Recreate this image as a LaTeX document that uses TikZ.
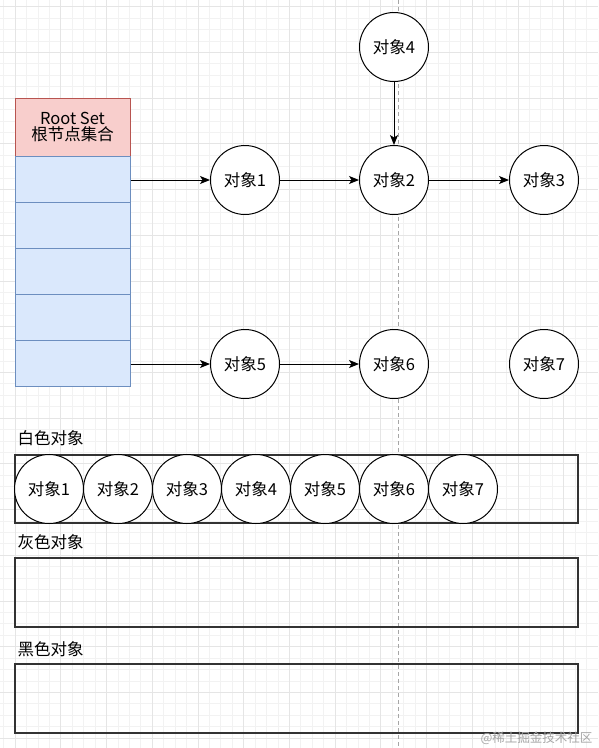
\documentclass[tikz,border=0pt]{standalone}
\usepackage{fontspec}
\setmainfont{Noto Sans CJK SC}
\usetikzlibrary{arrows.meta}
\definecolor{rootfill}{HTML}{F8CECC}
\definecolor{rootline}{HTML}{B85450}
\definecolor{cellfill}{HTML}{DAE8FC}
\definecolor{cellline}{HTML}{6C8EBF}
\begin{document}
\begin{tikzpicture}[x=1pt,y=-1pt,>={Stealth[length=10pt,width=8pt,inset=2.5pt]},
  font=\fontsize{16.5}{19}\selectfont,
  obj/.style={circle,draw,fill=white,line width=1pt,minimum size=69pt,inner sep=0pt},
  rootbox/.style={draw=rootline,fill=rootfill,line width=1pt,minimum width=115pt,minimum height=58pt,align=center,inner sep=0pt},
  cellbox/.style={draw=cellline,fill=cellfill,line width=1pt,minimum width=115pt,minimum height=46pt,inner sep=0pt},
  setbox/.style={draw=black!80,line width=1.1pt},
  link/.style={->,line width=1pt}]
\useasboundingbox (0,0) rectangle (598,748);
\fill[white] (0,0) rectangle (598,748);
% background grid
\begin{scope}
\clip (0,0) rectangle (598,748);
\foreach \i in {-2,...,52} \draw[black!5,line width=0.6pt] (15+11.43*\i,0)--(15+11.43*\i,748);
\foreach \i in {-9,...,57} \draw[black!5,line width=0.6pt] (0,98+11.43*\i)--(598,98+11.43*\i);
\foreach \i in {-1,...,13} \draw[black!10,line width=0.6pt] (15+45.72*\i,0)--(15+45.72*\i,748);
\foreach \i in {-3,...,15} \draw[black!10,line width=0.6pt] (0,98+45.72*\i)--(598,98+45.72*\i);
\end{scope}
\draw[black!35,dashed,dash pattern=on 4pt off 3pt,line width=0.6pt] (398,0)--(398,748);
% root set
\node[rootbox] (root) at (72.5,127) {Root Set\\[-3pt]根节点集合};
\foreach \i in {1,...,5} \node[cellbox] (c\i) at (72.5,179+46*\i-46) {};
% objects
\node[obj] (o1) at (245,180) {对象1};
\node[obj] (o2) at (394,180) {对象2};
\node[obj] (o3) at (544,180) {对象3};
\node[obj] (o4) at (394,47) {对象4};
\node[obj] (o5) at (245,364) {对象5};
\node[obj] (o6) at (394,364) {对象6};
\node[obj] (o7) at (544,364) {对象7};
\draw[link] (c1.east|-o1) -- (o1);
\draw[link] (c5.east|-o5) -- (o5);
\draw[link] (o1) -- (o2);
\draw[link] (o2) -- (o3);
\draw[link] (o4) -- (o2);
\draw[link] (o5) -- (o6);
% colour sets
\node[anchor=west] (lw) at (14,438) {白色对象};
\draw[setbox] (15,455) rectangle (578,523);
\foreach \i in {1,...,7} \node[obj] (w\i) at (49+69*\i-69,489) {对象\i};
\node[anchor=west] (lg) at (14,542) {灰色对象};
\draw[setbox] (15,558) rectangle (578,627);
\node[anchor=west] (lb) at (14,649) {黑色对象};
\draw[setbox] (15,664) rectangle (578,733);
\node[anchor=east,text=black!35,font=\fontsize{12.5}{14}\selectfont] (mark) at (596,738) {@稀土掘金技术社区};
\end{tikzpicture}
\end{document}
